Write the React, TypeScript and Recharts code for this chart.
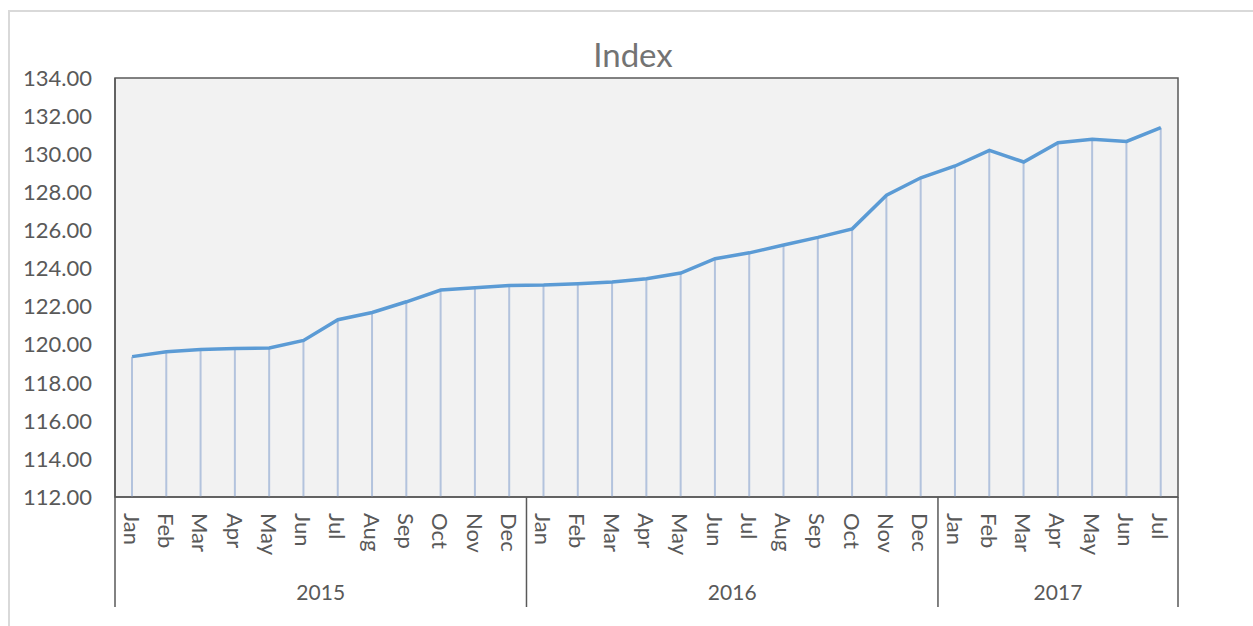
import {
  Bar,
  CartesianGrid,
  ComposedChart,
  Line,
  ReferenceArea,
  XAxis,
  YAxis,
} from 'recharts';

const months = [
  'Jan', 'Feb', 'Mar', 'Apr', 'May', 'Jun', 'Jul', 'Aug', 'Sep', 'Oct', 'Nov', 'Dec',
  'Jan', 'Feb', 'Mar', 'Apr', 'May', 'Jun', 'Jul', 'Aug', 'Sep', 'Oct', 'Nov', 'Dec',
  'Jan', 'Feb', 'Mar', 'Apr', 'May', 'Jun', 'Jul',
];

const years = [
  '2015', '2015', '2015', '2015', '2015', '2015', '2015', '2015', '2015', '2015', '2015', '2015',
  '2016', '2016', '2016', '2016', '2016', '2016', '2016', '2016', '2016', '2016', '2016', '2016',
  '2017', '2017', '2017', '2017', '2017', '2017', '2017',
];

const indexValues = [
  119.37, 119.63, 119.75, 119.8, 119.82, 120.22, 121.31, 121.69, 122.25, 122.87, 122.99, 123.11,
  123.13, 123.2, 123.29, 123.46, 123.76, 124.51, 124.82, 125.23, 125.63, 126.08, 127.85, 128.76,
  129.38, 130.2, 129.59, 130.6, 130.79, 130.67, 131.39,
];

const yTicks = [112, 114, 116, 118, 120, 122, 124, 126, 128, 130, 132, 134];

const FONT = 'Lato, "Open Sans", sans-serif';
const TEXT = '#595959';
const AXIS = '#595959';

const CHART_W = 1253;
const CHART_H = 626;
const MARGIN = { top: 78, right: 75, bottom: 19, left: 0 };
const Y_AXIS_W = 115;
const MONTH_AXIS_H = 70;
const YEAR_AXIS_H = 40;
const YEAR_TICK_MARGIN = 24;
const BAND = (CHART_W - MARGIN.left - MARGIN.right - Y_AXIS_W) / months.length;

const data = months.map((m, i) => ({
  month: m,
  year: years[i],
  value: indexValues[i],
}));

function MonthTick({ x, y, payload }: any) {
  return (
    <text
      x={x}
      y={y}
      transform={`rotate(90, ${x}, ${y})`}
      textAnchor='start'
      dominantBaseline='central'
      fill={TEXT}
      fontSize={22}
      fontFamily={FONT}
    >
      {payload.value}
    </text>
  );
}

function YearTick({ x, y, index }: any) {
  const year = years[index];
  const firstIdx = years.indexOf(year);
  const count = years.filter((v) => v === year).length;
  const mid = firstIdx + (count - 1) / 2;
  const top = y - YEAR_TICK_MARGIN - MONTH_AXIS_H;
  const bottom = y - YEAR_TICK_MARGIN + YEAR_AXIS_H;
  const isLast = index === years.length - 1;

  return (
    <g>
      {index === firstIdx && (
        <line x1={x - BAND / 2} x2={x - BAND / 2} y1={top} y2={bottom} stroke={AXIS} strokeWidth={1.5} />
      )}
      {isLast && (
        <line x1={x + BAND / 2} x2={x + BAND / 2} y1={top} y2={bottom} stroke={AXIS} strokeWidth={1.5} />
      )}
      {index === Math.floor(mid) && (
        <text
          x={x + (mid - Math.floor(mid)) * BAND}
          y={y}
          textAnchor='middle'
          dominantBaseline='central'
          fill={TEXT}
          fontSize={21}
          fontFamily={FONT}
        >
          {year}
        </text>
      )}
    </g>
  );
}

export default function App() {
  return (
    <div
      style={{
        position: 'absolute',
        left: 0,
        top: 0,
        width: CHART_W,
        height: CHART_H,
        overflow: 'hidden',
        background: '#fff',
      }}
    >
      <div
        style={{
          position: 'absolute',
          left: 8,
          top: 10,
          width: 1300,
          height: 700,
          border: '2px solid #d9d9d9',
        }}
      />
      <div
        style={{
          position: 'absolute',
          left: 0,
          top: 36,
          width: 1266,
          textAlign: 'center',
          fontFamily: FONT,
          fontSize: 33,
          lineHeight: '36px',
          color: '#737373',
        }}
      >
        Index
      </div>
      <div style={{ position: 'absolute', left: 0, top: 0 }}>
        <ComposedChart width={CHART_W} height={CHART_H} data={data} margin={MARGIN}>
          <CartesianGrid horizontal={false} vertical={false} fill='#f2f2f2' />
          <XAxis
            xAxisId='m'
            dataKey='month'
            interval={0}
            height={MONTH_AXIS_H}
            tickLine={false}
            tickSize={0}
            tickMargin={16}
            axisLine={{ stroke: AXIS, strokeWidth: 1.5 }}
            tick={<MonthTick />}
          />
          <XAxis
            xAxisId='y'
            dataKey='year'
            interval={0}
            height={YEAR_AXIS_H}
            tickLine={false}
            tickSize={0}
            tickMargin={YEAR_TICK_MARGIN}
            axisLine={false}
            tick={<YearTick />}
          />
          <YAxis
            width={Y_AXIS_W}
            domain={[112, 134]}
            ticks={yTicks}
            interval={0}
            tickLine={false}
            tickSize={0}
            tickMargin={23}
            axisLine={{ stroke: AXIS, strokeWidth: 1.5 }}
            tickFormatter={(v: number) => v.toFixed(2)}
            tick={{ fill: TEXT, fontSize: 22, fontFamily: FONT }}
          />
          <ReferenceArea
            xAxisId='m'
            y1={112}
            y2={134}
            fill='none'
            fillOpacity={0}
            stroke={AXIS}
            strokeWidth={1.5}
          />
          <Bar
            xAxisId='m'
            dataKey='value'
            barSize={2}
            fill='#b3c3dd'
            isAnimationActive={false}
          />
          <Line
            xAxisId='m'
            type='linear'
            dataKey='value'
            stroke='#5b9bd5'
            strokeWidth={3.5}
            dot={false}
            isAnimationActive={false}
          />
        </ComposedChart>
      </div>
    </div>
  );
}
